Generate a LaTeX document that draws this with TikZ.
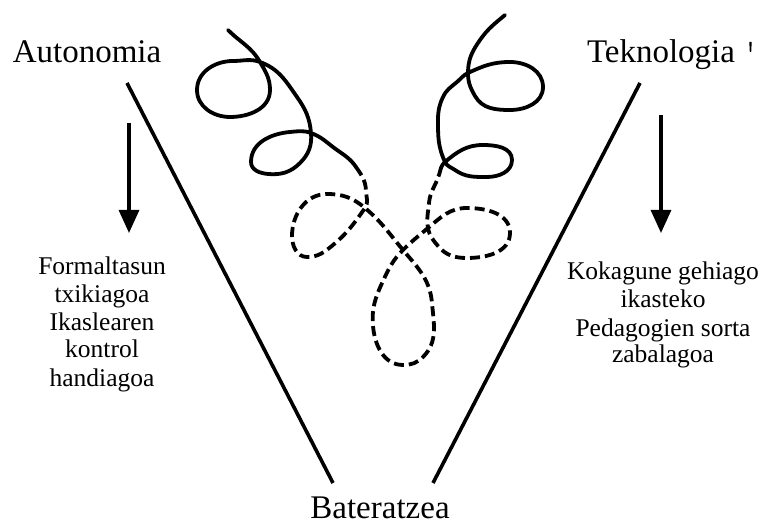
\documentclass[tikz,border=0pt]{standalone}
\usepackage{fontspec}
\setmainfont{Liberation Serif}
\usetikzlibrary{arrows.meta}
\tikzset{
  big/.style={font=\fontsize{33}{40}\selectfont, inner sep=0pt, anchor=base},
  lbl/.style={font=\fontsize{25.5}{28}\selectfont, inner sep=0pt, anchor=base},
  vline/.style={line width=3.6pt},
  downarrow/.style={line width=3.2pt, -{Triangle[length=23pt,width=20pt]}},
  curl/.style={line width=3.8pt, line cap=round},
  curldash/.style={line width=3.8pt, dash pattern=on 10pt off 5pt}
}
\begin{document}
\begin{tikzpicture}[x=1pt,y=1pt]
\useasboundingbox (0,0) rectangle (761,526);
% titles
\node[big] (auto) at (87,463) {Autonomia};
\node[big] (tekno) at (661,463) {Teknologia};
\fill (749.3,484) -- (751.7,484) -- (751.2,474) -- (749.8,474) -- cycle;
\node[big] (bater) at (380,7) {Bateratzea};
% V lines
\coordinate (lt) at (127,443);
\coordinate (lb) at (333,43);
\coordinate (rt) at (640,443);
\coordinate (rb) at (433,43);
\draw[vline] (lt) -- (lb);
\draw[vline] (rt) -- (rb);
% arrows
\coordinate (la1) at (129,403);
\coordinate (la2) at (129,293);
\coordinate (ra1) at (661,411);
\coordinate (ra2) at (661,293);
\draw[downarrow] (la1) -- (la2);
\draw[downarrow] (ra1) -- (ra2);
% left text
\node[lbl] (l1) at (102,251) {Formaltasun};
\node[lbl] (l2) at (102,223) {txikiagoa};
\node[lbl] (l3) at (102,195) {Ikaslearen};
\node[lbl] (l4) at (102,168) {kontrol};
\node[lbl] (l5) at (102,139) {handiagoa};
% right text
\node[lbl] (r1) at (663,246) {Kokagune gehiago};
\node[lbl] (r2) at (663,218) {ikasteko};
\node[lbl] (r3) at (663,189) {Pedagogien sorta};
\node[lbl] (r4) at (663,163) {zabalagoa};
% left solid spiral
\draw[curl] (228,496)
  to[out=-45,in=120] (260,464)
  to[out=-60,in=90] (270,436)
  to[out=-90,in=0] (230,409)
  to[out=180,in=270] (197,436)
  to[out=90,in=180] (233,465)
  to[out=0,in=160] (260,464)
  to[out=-20,in=125] (297,429)
  to[out=-55,in=95] (311,393)
  to[out=-85,in=45] (300,363)
  to[out=-135,in=-5] (268,352)
  to[out=175,in=270] (251,364)
  to[out=90,in=185] (290,394)
  to[out=5,in=160] (311,393)
  to[out=-20,in=145] (337,376)
  to[out=-35,in=125] (356,359);
% dashed middle
\draw[curldash] (356,359)
  to[out=-55,in=92] (366,335)
  to[out=-88,in=55] (365,318)
  to[out=-125,in=40] (333,281)
  to[out=-140,in=0] (307,269)
  to[out=180,in=270] (292,290)
  to[out=90,in=180] (327,332)
  to[out=0,in=140] (365,318)
  to[out=-40,in=130] (403,276)
  to[out=-50,in=95] (432,223)
  to[out=-85,in=45] (423,169)
  to[out=-135,in=0] (403,161)
  to[out=180,in=-85] (373,200)
  to[out=95,in=-115] (383,245)
  to[out=65,in=-135] (403,276)
  to[out=45,in=-140] (428,298)
  to[out=40,in=180] (467,318)
  to[out=0,in=90] (510,293)
  to[out=-90,in=0] (467,268)
  to[out=180,in=-50] (438,280)
  to[out=130,in=-80] (428,298)
  to[out=100,in=-95] (429,323)
  to[out=85,in=-108] (439,351);
% right solid spiral
\draw[curl] (439,351)
  to[out=72,in=-140] (445,364)
  to[out=40,in=180] (483,381)
  to[out=0,in=90] (512,366)
  to[out=-90,in=0] (487,349)
  to[out=180,in=-35] (455,356)
  to[out=145,in=-65] (445,364)
  to[out=115,in=-90] (438,406)
  to[out=90,in=-115] (443,429)
  to[out=65,in=-140] (457,444)
  to[out=40,in=-155] (468,453)
  to[out=25,in=180] (510,464)
  to[out=0,in=90] (543,439)
  to[out=-90,in=0] (510,416)
  to[out=180,in=-60] (475,430)
  to[out=120,in=-90] (468,453)
  to[out=90,in=-125] (480,486)
  to[out=55,in=-140] (505,511);
\end{tikzpicture}
\end{document}
